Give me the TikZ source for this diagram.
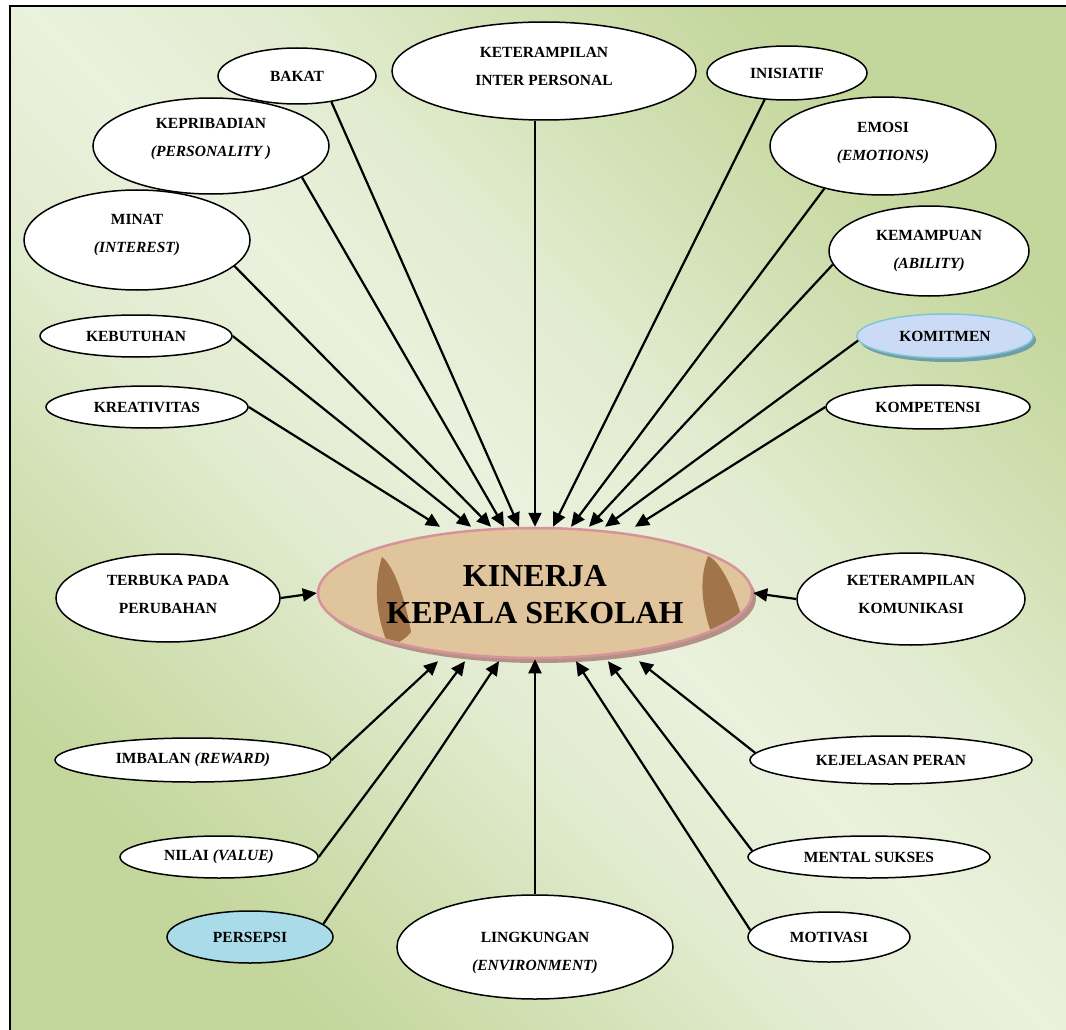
\documentclass[tikz,border=0pt]{standalone}
\usepackage{fontspec}
\setmainfont{Liberation Serif}
\usetikzlibrary{shapes.geometric,arrows.meta,calc}

\definecolor{bglight}{HTML}{EAF1DD}
\definecolor{bggreen}{HTML}{C3D69B}
\definecolor{ktan}{HTML}{E0C49C}
\definecolor{kpink}{HTML}{D6939B}
\definecolor{kshadow}{HTML}{B39286}
\definecolor{kbrown}{HTML}{8E5A2E}
\definecolor{komitfill}{HTML}{CCDBF5}
\definecolor{komitline}{HTML}{80C6D3}
\definecolor{komitshadow}{HTML}{6E9FA6}
\definecolor{persfill}{HTML}{A9DCE8}

\pgfdeclareverticalshading{bgshade}{100bp}{color(0bp)=(bggreen); color(25bp)=(bggreen); color(33bp)=(bggreen!65!bglight); color(42bp)=(bggreen!20!bglight); color(50bp)=(bglight); color(58bp)=(bggreen!20!bglight); color(67bp)=(bggreen!65!bglight); color(75bp)=(bggreen); color(100bp)=(bggreen)}

\newcommand{\factorfont}{\bfseries\fontsize{15.5}{28}\selectfont}

\tikzset{every picture/.style={line width=0.75pt}}
\tikzset{
  factor/.style={ellipse, draw, line width=1.5pt, fill=white, inner sep=0pt, align=center, font=\factorfont},
  factortext/.style={align=center, font=\factorfont, inner sep=0pt},
  arr/.style={line width=2.2pt, -{Triangle[length=14pt,width=13pt]}}
}

\begin{document}
\begin{tikzpicture}[x=1pt,y=1pt,yscale=-1,xscale=1]
\useasboundingbox (0,0) rectangle (1066,1030);

%Background
\fill[white] (0,0) rectangle (1066,1030);
\shade[shading=bgshade, shading angle=-45] (10,6) rectangle (1066,1030);
\draw[line width=2pt] (10,1030) -- (10,6) -- (1066,6);

%Shape: Ellipse (center, shadow first)
\fill[kshadow] (539,598) ellipse [x radius=217, y radius=65];
\node[ellipse, draw=kpink, line width=2.5pt, fill=ktan, minimum width=434pt, minimum height=130pt, inner sep=0pt] (k) at (535,593) {};
\begin{scope}
\clip (535,593) ellipse [x radius=215, y radius=63];
\fill[kbrown, opacity=.75] (382,557) .. controls (394,566) and (405,598) .. (411,632) .. controls (405,640) and (395,645) .. (388,645) .. controls (378,620) and (372,590) .. (382,557) -- cycle;
\fill[kbrown, opacity=.75] (708,556) .. controls (722,562) and (736,595) .. (743,622) .. controls (728,630) and (716,633) .. (711,632) .. controls (703,610) and (698,580) .. (708,556) -- cycle;
\end{scope}
% Text Node
\node[align=center, font=\bfseries\fontsize{32}{37}\selectfont] (ktext) at (535,595) {KINERJA\\KEPALA SEKOLAH};

%Shape: Ellipses (factors, top)
\node[factor, minimum width=158pt, minimum height=56pt] (bakat) at (297,76) {BAKAT};
\node[factor, minimum width=304pt, minimum height=98pt] (kip) at (544,71) {};
\node[factortext] (kip-t) at ($(kip.center)+(0,-5)$) {KETERAMPILAN\\INTER PERSONAL};
\node[factor, minimum width=160pt, minimum height=54pt] (inis) at (787,73) {INISIATIF};
\node[factor, minimum width=236pt, minimum height=96pt] (kepri) at (211,146) {};
\node[factortext] (kepri-t) at ($(kepri.center)+(0,-7)$) {KEPRIBADIAN\\\textit{(PERSONALITY )}};
\node[factor, minimum width=226pt, minimum height=98pt] (emosi) at (883,146) {};
\node[factortext] (emosi-t) at ($(emosi.center)+(0,-3)$) {EMOSI\\\textit{(EMOTIONS)}};
\node[factor, minimum width=226pt, minimum height=100pt] (minat) at (137,240) {};
\node[factortext] (minat-t) at ($(minat.center)+(0,-5)$) {MINAT\\\textit{(INTEREST)}};
\node[factor, minimum width=200pt, minimum height=90pt] (kemam) at (929,251) {};
\node[factortext] (kemam-t) at (kemam.center) {KEMAMPUAN\\\textit{(ABILITY)}};
\node[factor, minimum width=192pt, minimum height=42pt] (kebut) at (136,336) {KEBUTUHAN};
\fill[komitshadow] (948,340) ellipse [x radius=88, y radius=22];
\node[factor, draw=komitline, fill=komitfill, minimum width=176pt, minimum height=44pt] (komit) at (945,336) {KOMITMEN};
\node[factor, minimum width=202pt, minimum height=42pt] (kreat) at (147,407) {KREATIVITAS};
\node[factor, minimum width=204pt, minimum height=44pt] (kompe) at (928,407) {KOMPETENSI};

%Shape: Ellipses (factors, sides)
\node[factor, minimum width=224pt, minimum height=88pt] (terbuka) at (168,598) {};
\node[factortext] (terbuka-t) at ($(terbuka.center)+(0,-4)$) {TERBUKA PADA\\PERUBAHAN};
\node[factor, minimum width=228pt, minimum height=92pt] (komun) at (911,599) {};
\node[factortext] (komun-t) at ($(komun.center)+(0,-5)$) {KETERAMPILAN\\KOMUNIKASI};

%Shape: Ellipses (factors, bottom)
\node[factor, minimum width=276pt, minimum height=44pt] (imbal) at (193,760) {IMBALAN \textit{(REWARD)}};
\node[factor, minimum width=282pt, minimum height=48pt] (kejel) at (891,760) {KEJELASAN PERAN};
\node[factor, minimum width=198pt, minimum height=42pt] (nilai) at (219,857) {NILAI \textit{(VALUE)}};
\node[factor, minimum width=242pt, minimum height=42pt] (mental) at (869,857) {MENTAL SUKSES};
\node[factor, fill=persfill, minimum width=166pt, minimum height=52pt] (pers) at (250,937) {PERSEPSI};
\node[factor, minimum width=276pt, minimum height=104pt] (lingk) at (535,947) {};
\node[factortext] (lingk-t) at ($(lingk.center)+(0,6)$) {LINGKUNGAN\\\textit{(ENVIRONMENT)}};
\node[factor, minimum width=162pt, minimum height=50pt] (motiv) at (829,937) {MOTIVASI};

%Arrows into the top of the center
\draw[arr] (kreat.east) -- ($(k.north)+(-95,0)$);
\draw[arr] (kebut.east) -- ($(k.north)+(-64,0)$);
\draw[arr] (minat.-15) -- ($(k.north)+(-44,0)$);
\draw[arr] (kepri.-19) -- ($(k.north)+(-31,0)$);
\draw[arr] (bakat.-37) -- ($(k.north)+(-16,0)$);
\draw[arr] (kip.south -| k.north) -- (k.north);
\draw[arr] (inis.-130) -- ($(k.north)+(18,0)$);
\draw[arr] (emosi.-144) -- ($(k.north)+(36,0)$);
\draw[arr] (kemam.-172) -- ($(k.north)+(54,0)$);
\draw[arr] (komit.183) -- ($(k.north)+(70,0)$);
\draw[arr] (kompe.west) -- ($(k.north)+(100,0)$);

%Arrows into the sides
\draw[arr] (terbuka.east) -- (k.west);
\draw[arr] (komun.west) -- (k.east);

%Arrows into the bottom of the center
\draw[arr] (imbal.east) -- ($(k.south)+(-97,2)$);
\draw[arr] (nilai.east) -- ($(k.south)+(-70,2)$);
\draw[arr] (pers.10) -- ($(k.south)+(-36,2)$);
\draw[arr] (lingk.north) -- (k.south);
\draw[arr] (motiv.175) -- ($(k.south)+(41,2)$);
\draw[arr] (mental.177) -- ($(k.south)+(73,2)$);
\draw[arr] (kejel.177) -- ($(k.south)+(104,2)$);

\end{tikzpicture}
\end{document}
